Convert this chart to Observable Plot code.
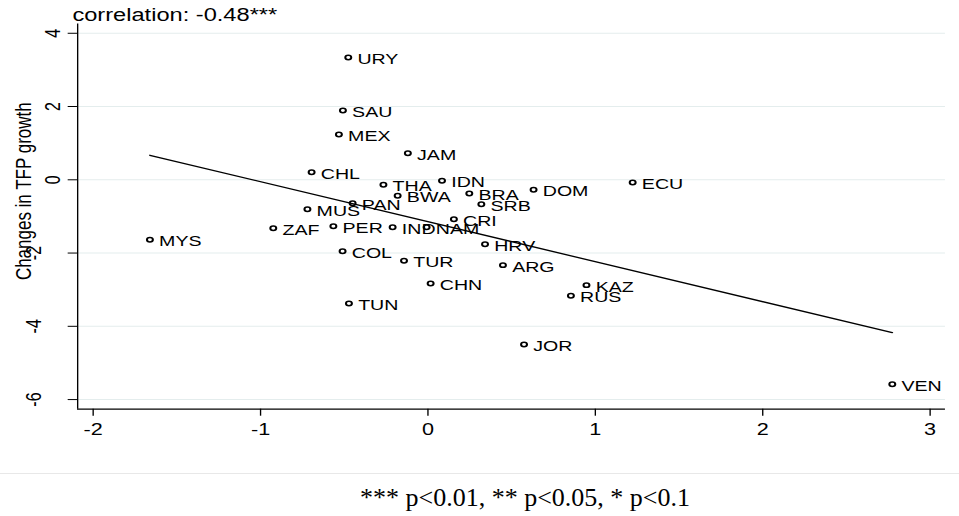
<!DOCTYPE html>
<html><head><meta charset="utf-8">
<script src="https://cdn.jsdelivr.net/npm/d3@7"></script>
<script src="https://cdn.jsdelivr.net/npm/@observablehq/plot@0.6"></script>
<style>
html,body{margin:0;padding:0;background:#fff;}
#chart svg{display:block;}
#caption{width:959px;box-sizing:border-box;border-top:1px solid #e8e8e8;padding-left:91px;padding-top:11px;text-align:center;font-family:"Liberation Serif","Times New Roman",serif;font-size:26px;line-height:1;color:#000;}
</style></head><body>
<div id="chart"></div>
<div id="caption"></div>
<script>
// ---- data ----
const countries = ["URY","SAU","MEX","JAM","CHL","THA","IDN","BWA","BRA","DOM","ECU","SRB","PAN","MUS","CRI","ZAF","PER","IND","NAM","MYS","HRV","COL","TUR","ARG","CHN","KAZ","RUS","TUN","JOR","VEN"];
const xValues = [-0.476,-0.508,-0.532,-0.120,-0.695,-0.266,0.084,-0.181,0.247,0.631,1.223,0.319,-0.450,-0.720,0.155,-0.924,-0.565,-0.211,-0.008,-1.661,0.341,-0.510,-0.143,0.448,0.016,0.947,0.854,-0.472,0.574,2.774];
const yValues = [3.339,1.892,1.237,0.726,0.207,-0.137,-0.027,-0.437,-0.374,-0.273,-0.074,-0.666,-0.639,-0.803,-1.076,-1.321,-1.267,-1.294,-1.294,-1.638,-1.758,-1.949,-2.211,-2.331,-2.831,-2.877,-3.167,-3.377,-4.496,-5.580];
const xTicks = [-2,-1,0,1,2,3];
const yTicksPos = [0,2,4];
const yTicksNeg = [-6,-4,-2];
const yTicks = [...yTicksNeg, ...yTicksPos];
const xDomain = [-2.0926, 3.0926];
const yDomain = [-6.263, 4.253];
const titleText = "correlation: -0.48***";
const yTitle = "Changes in TFP growth";
const captionText = "*** p<0.01, ** p<0.05, * p<0.1";

const data = countries.map((c, i) => ({name: c, x: xValues[i], y: yValues[i]}));

// The original Stata graph is stretched horizontally; draw at its native
// width and stretch the SVG to the page width.
const W = 710, H = 473, OUTW = 959;

const svg = Plot.plot({
  width: W,
  height: H,
  marginLeft: 57,
  marginRight: 10.4,
  marginTop: 23.5,
  marginBottom: H - 408.7,
  style: {fontFamily: "'Liberation Sans', Arial, Helvetica, sans-serif", fontSize: "14px", color: "#000", background: "#fff", overflow: "visible"},
  x: {domain: xDomain, nice: false, zero: false},
  y: {domain: yDomain, nice: false, zero: false},
  marks: [
    Plot.gridY(yTicks, {stroke: "#e4eded", strokeOpacity: 1, strokeWidth: 1}),
    Plot.ruleX([xDomain[0]], {stroke: "#000", strokeWidth: 1}),
    Plot.ruleY([yDomain[0]], {stroke: "#000", strokeWidth: 1.2}),
    Plot.axisX({ticks: xTicks, tickFormat: d => String(d), tickSize: 7, tickPadding: 7.6, fontSize: 16, label: null, stroke: "#000"}),
    Plot.axisY({ticks: yTicksPos, tickFormat: d => String(d), tickSize: 6.9, tickPadding: 6.5, tickRotate: -90, fontSize: 16, label: null, stroke: "#000"}),
    Plot.axisY({ticks: yTicksNeg, tickFormat: d => String(d), tickSize: 6.9, tickPadding: 20.5, tickRotate: -90, fontSize: 16, label: null, stroke: "#000"}),
    Plot.linearRegressionY(data, {x: "x", y: "y", ci: 0, stroke: "#000", strokeWidth: 1.3}),
    Plot.dot(data, {x: "x", y: "y", r: 2.2, stroke: "#000", strokeWidth: 1.5, fill: "none"}),
    Plot.text(data, {x: "x", y: "y", text: "name", dx: 6.8, dy: 1.8, textAnchor: "start", fontSize: 14.5, fill: "#000"}),
    Plot.text([titleText], {text: d => d, frameAnchor: "top-left", dx: -3.9, dy: -3, lineAnchor: "bottom", textAnchor: "start", fontSize: 17.5, fill: "#000"}),
    Plot.text([yTitle], {text: d => d, frameAnchor: "left", dx: -40, dy: -25.4, rotate: -90, textAnchor: "middle", fontSize: 17, fill: "#000"})
  ]
});
svg.setAttribute("width", OUTW);
svg.setAttribute("height", H);
svg.setAttribute("viewBox", `0 0 ${W} ${H}`);
svg.setAttribute("preserveAspectRatio", "none");
svg.style.width = OUTW + "px";
svg.style.height = H + "px";
svg.style.maxWidth = "none";
document.getElementById("chart").appendChild(svg);
document.getElementById("caption").textContent = captionText;
</script>
</body></html>
